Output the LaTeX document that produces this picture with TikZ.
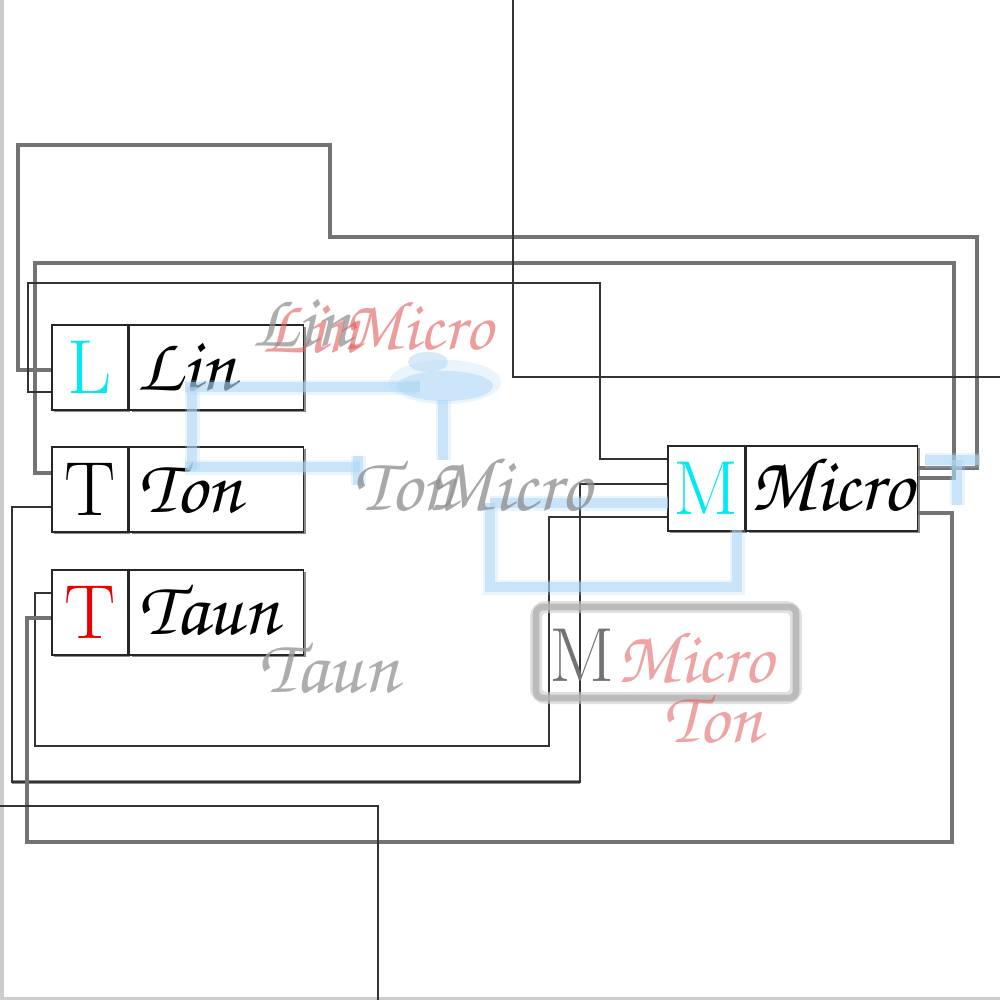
\documentclass[tikz,border=0pt]{standalone}
\usepackage[T1,TU]{fontenc}
\usetikzlibrary{shadows}
\newcommand\scrfont{\fontencoding{T1}\fontfamily{pzc}\fontseries{mb}\fontshape{it}\selectfont}
\definecolor{ghostblue}{RGB}{175,215,245}
\definecolor{ghostred}{RGB}{225,90,90}
\definecolor{brcyan}{RGB}{0,235,240}
\definecolor{brred}{RGB}{235,0,0}
\begin{document}
\begin{tikzpicture}[x=0.3pt,y=-0.3pt,
  cellbase/.style={draw=black!85, fill=white, line width=0.45pt, inner sep=0pt,
    minimum height=25.5pt,
    drop shadow={shadow xshift=0.6pt, shadow yshift=-0.6pt, fill=black!45, opacity=1}},
  lcell/.style={cellbase, minimum width=22.8pt, font=\fontsize{23}{23}\selectfont},
  rcell/.style={cellbase, minimum width=52.2pt, anchor=west},
  stext/.style={font={\fontsize{23}{23}\scrfont}, inner sep=0pt, anchor=base west},
  wire/.style={draw=black!80, line width=0.5pt},
  wireg/.style={draw=black!55, line width=0.95pt},
  ghost/.style={ghostblue, line width=3pt, opacity=0.55,
    preaction={draw=ghostblue, line width=4.5pt, opacity=0.25}}]
\useasboundingbox (0,0) rectangle (1000,1000);
\fill[white] (0,0) rectangle (1000,1000);
% borders
\draw[black!20, line width=0.9pt] (2,0) -- (2,1000);
\draw[black!20, line width=0.9pt] (0,998) -- (1000,998);

% boxes
\node[lcell] (linL) at (90,367.5) {\textcolor{brcyan}{L}};
\node[rcell] (linR) at (linL.east) {};
\node[lcell] (tonL) at (90,489.5) {T};
\node[rcell] (tonR) at (tonL.east) {};
\node[lcell] (taunL) at (90,612.5) {\textcolor{brred}{T}};
\node[rcell] (taunR) at (taunL.east) {};
\node[lcell, minimum width=23.1pt] (microL) at (706.5,488.5) {\textcolor{brcyan}{M}};
\node[rcell, minimum width=51.3pt] (microR) at (microL.east) {};

\node[stext] (linT) at (137,391) {Lin};
\node[stext] (tonT) at (138,512) {Ton};
\node[stext] (taunT) at (138,634) {Taun};
\node[stext] (microT) at (750,510) {Micro};

% connectors
\draw[wireg] (linL.west |- 0,370) -| (18,145) -| (330,237) -| (977,468) -- (microR.east |- 0,468);
\draw[wireg] (tonL.west |- 0,473) -| (35,263) -| (954,478) -- (microR.east |- 0,478);
\draw[wire] (linL.west |- 0,392) -| (28,283) -| (600,459) -- (microL.west |- 0,459);
\coordinate (d1) at (513,0);
\coordinate (d2) at (1000,377);
\draw[wire] (d1) |- (d2);
\draw[wireg, line width=1.3pt, draw=black!45] (12,782) -- (580,782);
\draw[wire] (tonL.west |- 0,507) -| (12,782) -| (580,484) -- (microL.west |- 0,484);
\draw[wire] (taunL.west |- 0,593) -| (35,746) -| (549,517) -- (microL.west |- 0,517);
\draw[wireg] (taunL.west |- 0,618) -| (27,842) -| (952,513) -- (microR.east |- 0,513);
\coordinate (h1) at (0,806);
\coordinate (h2) at (378,1000);
\draw[wire] (h1) -| (h2);

% ghost (blurred) layer
\draw[ghost] (185,387) -- (420,387);
\draw[ghost] (192,387) -- (192,470);
\draw[ghost] (185,467) -- (360,467);
\draw[ghost] (443,400) -- (443,460);
\draw[ghost] (358,456) -- (358,485);
\draw[ghost] (490,503) -- (490,587) -- (737,587) -- (737,530);
\draw[ghost] (490,503) -- (668,503);
\draw[ghost] (925,460) -- (980,460);
\draw[ghost] (957,460) -- (957,505);
\fill[ghostblue, opacity=0.25] (445,382) ellipse (56 and 22);
\fill[ghostblue, opacity=0.5] (445,386) ellipse (48 and 15);
\fill[ghostblue, opacity=0.5] (428,362) ellipse (20 and 10);

\node[stext, text=ghostred, opacity=0.6] (gredlin) at (262,352) {Lin};
\node[stext, text=black!45, opacity=0.7] (ggraylin) at (252,346) {Lin};
\node[stext, text=ghostred, opacity=0.6, font={\fontsize{21}{21}\scrfont}] (gredmicro) at (343,350) {Micro};

\node[stext, text=black!45, opacity=0.75] (gton) at (353,510) {Ton};
\node[stext, text=black!45, opacity=0.75] (gmicro) at (428,510) {Micro};
\node[stext, text=black!40, opacity=0.8] (gtaun) at (258,692) {Taun};

\draw[black!20, line width=3.6pt, rounded corners=3pt, opacity=0.6] (536,607) rectangle (796,698);
\draw[black!30, line width=2pt, rounded corners=2pt, opacity=0.8] (536,607) rectangle (796,698);
\node[font=\fontsize{23}{23}\selectfont, text=black!55, inner sep=0pt] (gm) at (582,655) {M};
\node[stext, text=ghostred, opacity=0.55, font={\fontsize{22}{22}\scrfont}] (gmicro2) at (617,682) {Micro};
\node[stext, text=ghostred, opacity=0.55, font={\fontsize{22}{22}\scrfont}] (gton2) at (663,742) {Ton};
\end{tikzpicture}
\end{document}
